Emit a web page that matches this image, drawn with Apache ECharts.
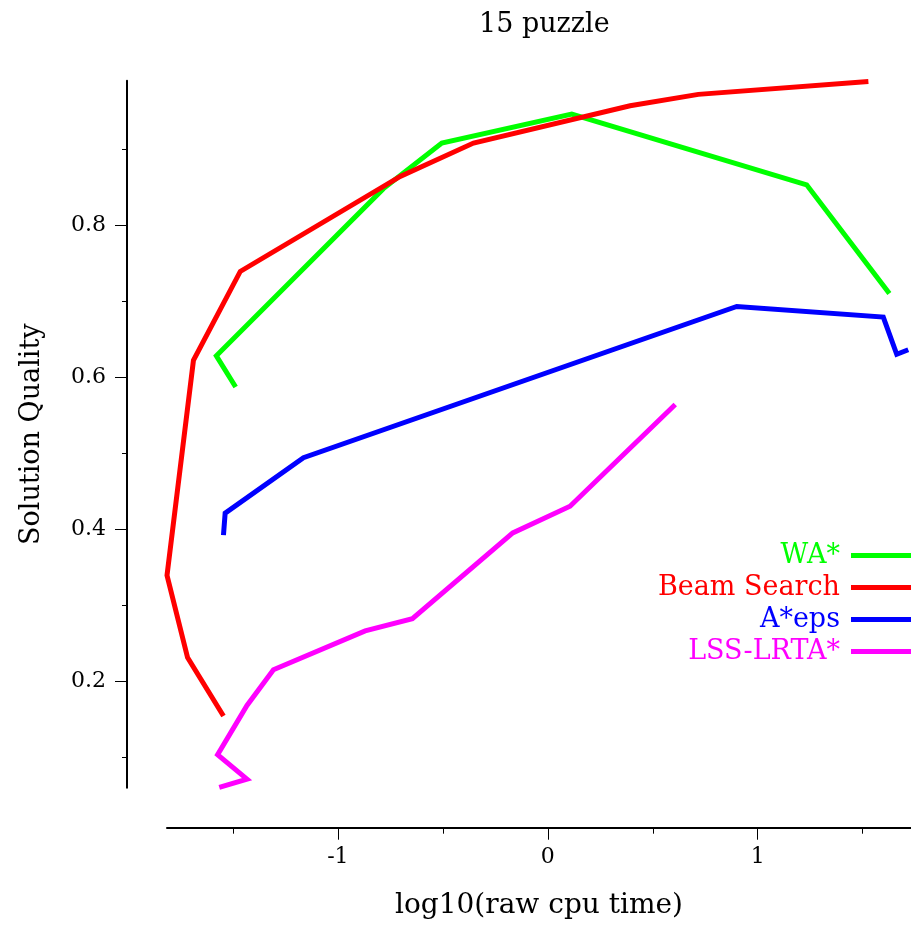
<!DOCTYPE html>
<html>
<head>
<meta charset="utf-8">
<script src="https://cdn.jsdelivr.net/npm/echarts@6/dist/echarts.min.js"></script>
<style>
  html, body { margin: 0; padding: 0; background: #fff; }
  #main { width: 911px; height: 925px; }
</style>
</head>
<body>
<div id="main"></div>
<script>
// series values: x = log10(raw cpu time), y = solution quality
var names = ["WA*", "Beam Search", "A*eps", "LSS-LRTA*"];
var colors = ["#00ff00", "#ff0000", "#0000ff", "#ff00ff"];

var waX = [-1.487, -1.579, -0.783, -0.505, 0.114, 1.233, 1.627];
var waY = [0.587, 0.628, 0.848, 0.908, 0.946, 0.853, 0.710];

var beamX = [-1.545, -1.716, -1.814, -1.688, -1.465, -0.703, -0.354, 0.392, 0.717, 1.527];
var beamY = [0.154, 0.231, 0.339, 0.622, 0.739, 0.864, 0.908, 0.957, 0.972, 0.989];

var aepsX = [-1.545, -1.537, -1.164, 0.900, 1.598, 1.662, 1.717];
var aepsY = [0.392, 0.421, 0.494, 0.693, 0.679, 0.630, 0.636];

var lssX = [-1.565, -1.433, -1.573, -1.433, -1.307, -0.870, -0.645, -0.167, 0.106, 0.607];
var lssY = [0.060, 0.071, 0.103, 0.168, 0.215, 0.266, 0.282, 0.395, 0.430, 0.564];

// tick labels
var xMajor = [-1, 0, 1];
var xMinor = [-1.5, -0.5, 0.5, 1.5];
var yMajor = [0.2, 0.4, 0.6, 0.8];
var yMinor = [0.1, 0.3, 0.5, 0.7, 0.9];

var xMin = -1.814, xMax = 1.73;
var yMin = 0.0597, yMax = 0.990;

var font = "DejaVu Serif";

function pairs(xs, ys) {
    var list = [];
    for (var i = 0; i < xs.length; i++) {
        list.push([xs[i], ys[i]]);
    }
    return list;
}

var allX = [waX, beamX, aepsX, lssX];
var allY = [waY, beamY, aepsY, lssY];

var series = names.map(function(name, i) {
    return {
        name: name,
        type: 'line',
        data: pairs(allX[i], allY[i]),
        showSymbol: false,
        clip: false,
        color: colors[i],
        lineStyle: { width: 5, color: colors[i], join: 'miter' }
    };
});

function xAxisOf(ticks, len, labels) {
    return {
        type: 'value',
        min: xMin,
        max: xMax,
        position: 'bottom',
        offset: 40,
        name: labels ? 'log10(raw cpu time)' : '',
        nameLocation: 'middle',
        nameGap: 64,
        nameTextStyle: { fontFamily: font, fontSize: 28, color: '#000' },
        axisLine: { show: !!labels, onZero: false, lineStyle: { color: '#000', width: 2 } },
        axisTick: { show: true, length: len, customValues: ticks, lineStyle: { color: '#000', width: 1 } },
        axisLabel: {
            show: !!labels,
            customValues: labels ? ticks : [],
            margin: 19,
            fontFamily: font, fontSize: 22, color: '#000',
            formatter: function(v) { return String(v); }
        },
        splitLine: { show: false }
    };
}

function yAxisOf(ticks, len, labels) {
    return {
        type: 'value',
        min: yMin,
        max: yMax,
        position: 'left',
        offset: 40,
        name: labels ? 'Solution Quality' : '',
        nameLocation: 'middle',
        nameGap: 82,
        nameTextStyle: { fontFamily: font, fontSize: 27, color: '#000' },
        axisLine: { show: !!labels, onZero: false, lineStyle: { color: '#000', width: 2 } },
        axisTick: { show: true, length: len, customValues: ticks, lineStyle: { color: '#000', width: 1 } },
        axisLabel: {
            show: !!labels,
            customValues: labels ? ticks : [],
            margin: 21,
            fontFamily: font, fontSize: 22, color: '#000',
            formatter: function(v) { return v.toFixed(1); }
        },
        splitLine: { show: false }
    };
}

var chart = echarts.init(document.getElementById('main'));
chart.setOption({
    backgroundColor: '#fff',
    animation: false,
    title: {
        text: '15 puzzle',
        left: 474,
        top: 6,
        textStyle: { fontFamily: font, fontSize: 27, fontWeight: 'normal', color: '#000' }
    },
    grid: { left: 167, right: 0, top: 80.7, bottom: 137.3, containLabel: false },
    legend: {
        orient: 'vertical',
        right: 0,
        top: 542,
        padding: 0,
        align: 'right',
        icon: 'rect',
        itemWidth: 60,
        itemHeight: 5,
        itemGap: 5,
        textStyle: { fontFamily: font, fontSize: 27, lineHeight: 27, padding: [0, 6, 0, 0] },
        data: names.map(function(name, i) {
            return { name: name, textStyle: { color: colors[i] } };
        })
    },
    xAxis: [xAxisOf(xMajor, 12, true), xAxisOf(xMinor, 6, false)],
    yAxis: [yAxisOf(yMajor, 12, true), yAxisOf(yMinor, 5, false)],
    series: series
});
</script>
</body>
</html>
